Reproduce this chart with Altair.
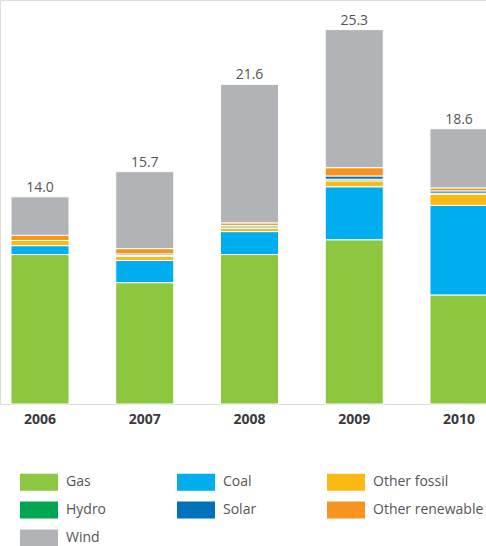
import altair as alt
import pandas as pd

years = ["2006", "2007", "2008", "2009", "2010"]
sources = ["Gas", "Coal", "Other fossil", "Hydro", "Solar", "Other renewable", "Wind"]
gas = [10.1, 8.2, 10.1, 11.1, 7.37]
coal = [0.6, 1.5, 1.55, 3.58, 6.05]
other_fossil = [0.35, 0.28, 0.22, 0.4, 0.75]
hydro = [0.0, 0.06, 0.1, 0.11, 0.08]
solar = [0.0, 0.1, 0.1, 0.22, 0.15]
other_renewable = [0.35, 0.36, 0.17, 0.56, 0.2]
wind = [2.6, 5.2, 9.36, 9.33, 4.0]
totals = [14.0, 15.7, 21.6, 25.3, 18.6]
total_labels = ["14.0", "15.7", "21.6", "25.3", "18.6"]
colors = ["#8dc63f", "#00aeef", "#fdb913", "#00a651", "#0072bc", "#f7941d", "#b1b3b6"]

series = [gas, coal, other_fossil, hydro, solar, other_renewable, wind]
rows = []
for si, (name, vals) in enumerate(zip(sources, series)):
    for yi, y in enumerate(years):
        rows.append({"year": y, "source": name, "value": vals[yi], "order": si})
df = pd.DataFrame(rows)
tot = pd.DataFrame({"year": years, "total": totals, "label": total_labels})

FONT = "Open Sans"
xscale = alt.Scale(domain=years, range=[0, 499], paddingInner=0.446, paddingOuter=0.105)
yscale = alt.Scale(domain=[0, 27.3], nice=False, zero=True)

bars = alt.Chart(df).transform_filter("datum.value > 0").mark_bar(
    stroke="white", strokeWidth=1
).encode(
    x=alt.X("year:N", scale=xscale, title=None,
            axis=alt.Axis(domain=False, ticks=False, labelAngle=0, labelFont=FONT,
                          labelFontSize=14, labelFontWeight="bold", labelColor="#3a3a3a",
                          labelPadding=8)),
    y=alt.Y("value:Q", stack="zero", scale=yscale, axis=None),
    color=alt.Color("source:N", scale=alt.Scale(domain=sources, range=colors),
                    legend=alt.Legend(
                        title=None, orient="none", legendX=20, legendY=463,
                        columns=3, direction="horizontal",
                        symbolType="M-1,-0.45L1,-0.45L1,0.45L-1,0.45Z",
                        symbolSize=1444, symbolStrokeWidth=0, symbolOpacity=1,
                        labelFont=FONT, labelFontSize=14, labelColor="#555555",
                        labelOffset=8, columnPadding=70, rowPadding=-14)),
    order=alt.Order("order:Q", sort="ascending"),
)

labels = alt.Chart(tot).mark_text(
    baseline="alphabetic", dy=-5, font=FONT, fontSize=14, color="#555555"
).encode(
    x=alt.X("year:N", scale=xscale),
    y=alt.Y("total:Q", scale=yscale),
    text="label:N",
)

chart = alt.layer(bars, labels).properties(
    width=486, height=404,
    autosize=alt.AutoSizeParams(type="none"),
    padding={"left": 0, "top": 0, "right": 0, "bottom": 142},
).configure_view(stroke=None).configure(background="white")

chart.save("out.html", embed_options={"renderer": "svg", "actions": False})
